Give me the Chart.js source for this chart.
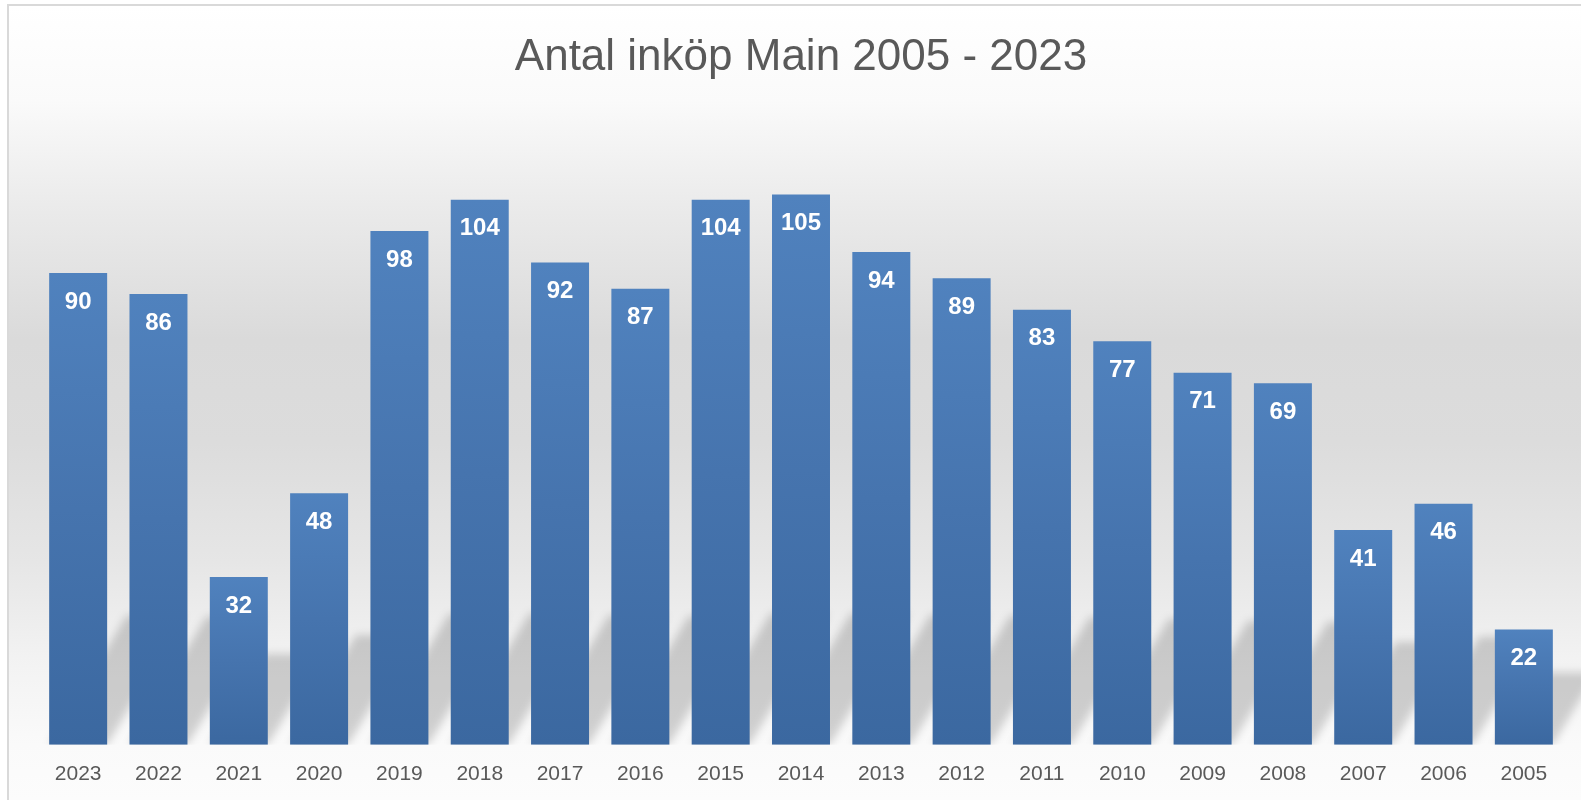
<!DOCTYPE html>
<html>
<head>
<meta charset="utf-8">
<script src="https://cdn.jsdelivr.net/npm/chart.js@4"></script>
<style>
  html, body { margin: 0; padding: 0; background: #ffffff; }
  #wrap { position: relative; width: 1581px; height: 800px; }
  canvas { display: block; }
</style>
</head>
<body>
<div id="wrap"><canvas id="c" width="1581" height="800"></canvas></div>
<script>
// ---- data ----
const titleText = 'Antal inköp Main 2005 - 2023';
const categories = ['2023','2022','2021','2020','2019','2018','2017','2016','2015','2014','2013','2012','2011','2010','2009','2008','2007','2006','2005'];
const values = [90, 86, 32, 48, 98, 104, 92, 87, 104, 105, 94, 89, 83, 77, 71, 69, 41, 46, 22];
const yMin = 0;
const yMax = 120;

// ---- plugins ----
const backgroundPlugin = {
  id: 'bgPanel',
  beforeDraw(chart) {
    const ctx = chart.ctx;
    const W = chart.width, H = chart.height;
    ctx.save();
    ctx.fillStyle = '#ffffff';
    ctx.fillRect(0, 0, W, H);
    const g = ctx.createLinearGradient(0, 6, 0, H);
    g.addColorStop(0.00, '#ffffff');
    g.addColorStop(0.12, '#fafafa');
    g.addColorStop(0.25, '#ebebeb');
    g.addColorStop(0.42, '#dadada');
    g.addColorStop(0.55, '#dcdcdc');
    g.addColorStop(0.70, '#e6e6e6');
    g.addColorStop(0.82, '#f2f2f2');
    g.addColorStop(0.93, '#fafafa');
    g.addColorStop(1.00, '#fcfcfc');
    ctx.fillStyle = g;
    ctx.fillRect(8, 6, W - 8, H - 6);
    ctx.strokeStyle = '#d9d9d9';
    ctx.lineWidth = 2;
    ctx.beginPath();
    ctx.moveTo(8, H + 2);
    ctx.lineTo(8, 5);
    ctx.lineTo(W + 2, 5);
    ctx.stroke();
    ctx.restore();
  }
};

const shadowPlugin = {
  id: 'barShadows',
  beforeDatasetsDraw(chart) {
    const ctx = chart.ctx;
    const meta = chart.getDatasetMeta(0);
    ctx.save();
    ctx.beginPath();
    ctx.rect(0, 0, chart.width, chart.chartArea.bottom);
    ctx.clip();
    ctx.filter = 'blur(4px)';
    ctx.fillStyle = 'rgba(0,0,0,0.17)';
    meta.data.forEach(el => {
      const L = el.x - el.width / 2;
      const R = el.x + el.width / 2;
      const base = el.base;
      const h = base - el.y;
      const hs = 135 * (1 - Math.exp(-h / 150));
      const k = 0.6;
      ctx.beginPath();
      ctx.moveTo(L, base);
      ctx.lineTo(R, base);
      ctx.lineTo(R + hs * k, base - hs);
      ctx.lineTo(L + hs * k, base - hs);
      ctx.closePath();
      ctx.fill();
    });
    ctx.restore();
  }
};

const labelPlugin = {
  id: 'barLabels',
  afterDatasetsDraw(chart) {
    const ctx = chart.ctx;
    const meta = chart.getDatasetMeta(0);
    ctx.save();
    ctx.font = 'bold 24px "Liberation Sans"';
    ctx.fillStyle = '#ffffff';
    ctx.textAlign = 'center';
    ctx.textBaseline = 'middle';
    meta.data.forEach((el, i) => {
      ctx.fillText(String(values[i]), el.x, el.y + 29);
    });
    ctx.restore();
  }
};

function barGradient(c) {
  const chart = c.chart;
  const ys = chart.scales.y;
  if (!ys || c.raw === undefined) return '#4a78b3';
  const top = ys.getPixelForValue(c.raw);
  const bot = ys.getPixelForValue(0);
  if (!isFinite(top) || !isFinite(bot) || top === bot) return '#4a78b3';
  const g = chart.ctx.createLinearGradient(0, top, 0, bot);
  g.addColorStop(0, '#5082be');
  g.addColorStop(0.5, '#4674ae');
  g.addColorStop(1, '#3b68a0');
  return g;
}

new Chart(document.getElementById('c'), {
  type: 'bar',
  data: {
    labels: categories,
    datasets: [{
      data: values,
      backgroundColor: barGradient,
      borderWidth: 0,
      barPercentage: 0.722,
      categoryPercentage: 1.0
    }]
  },
  options: {
    responsive: false,
    animation: false,
    events: [],
    layout: { padding: { left: 38, right: 17, top: 0, bottom: -4 } },
    plugins: {
      legend: { display: false },
      tooltip: { enabled: false },
      title: {
        display: true,
        text: titleText,
        color: '#595959',
        font: { family: '"Liberation Sans"', size: 44, weight: 'normal', lineHeight: 1.2 },
        padding: { top: 31, bottom: 32 }
      }
    },
    scales: {
      x: {
        grid: { display: false, drawTicks: false },
        border: { display: false },
        ticks: {
          color: '#595959',
          font: { family: '"Liberation Sans"', size: 21 },
          padding: 17
        }
      },
      y: {
        display: false,
        min: yMin,
        max: yMax
      }
    }
  },
  plugins: [backgroundPlugin, shadowPlugin, labelPlugin]
});
</script>
</body>
</html>
